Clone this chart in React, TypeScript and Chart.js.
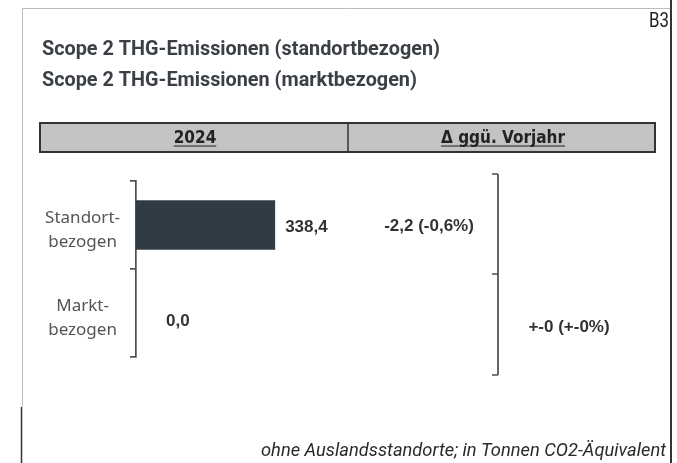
import { useEffect, useRef } from "react";
import { Chart, registerables } from "chart.js";

Chart.register(...registerables);

// ---- data ----
const categories = [["Standort-", "bezogen"], ["Markt-", "bezogen"]];
const values2024 = [338.4, 0.0];
const deltaLabels = ["-2,2 (-0,6%)", "+-0 (+-0%)"];
const titleLines = [
  "Scope 2 THG-Emissionen (standortbezogen)",
  "Scope 2 THG-Emissionen (marktbezogen)",
];
const headerLabels = ["2024", "Δ ggü. Vorjahr"];
const footnote = "ohne Auslandsstandorte; in Tonnen CO2-Äquivalent";
const pageTag = "B3";

const NARROW = "'DejaVu Sans Condensed', 'Roboto Condensed', sans-serif";
const ROBOTO = "Roboto, 'Liberation Sans', sans-serif";
const SANS = "'Noto Sans', 'Open Sans', sans-serif";
const ARIAL = "'Liberation Sans', Arial, sans-serif";

const fmt = (v: number) =>
  v.toLocaleString("de-DE", { minimumFractionDigits: 1, maximumFractionDigits: 1 });

// draw text horizontally condensed by factor sx
function fillCondensed(
  ctx: CanvasRenderingContext2D,
  text: string,
  x: number,
  y: number,
  sx: number
) {
  ctx.save();
  ctx.translate(x, y);
  ctx.scale(sx, 1);
  ctx.fillText(text, 0, 0);
  ctx.restore();
}

const decorPlugin = {
  id: "slideDecor",
  beforeDraw(chart: any) {
    const ctx = chart.ctx as CanvasRenderingContext2D;
    ctx.save();
    ctx.fillStyle = "#ffffff";
    ctx.fillRect(0, 0, chart.width, chart.height);

    // light frame
    ctx.strokeStyle = "#bdbdbd";
    ctx.lineWidth = 1;
    ctx.beginPath();
    ctx.moveTo(22.5, 407);
    ctx.lineTo(22.5, 8.5);
    ctx.lineTo(671, 8.5);
    ctx.stroke();
    // dark right border
    ctx.strokeStyle = "#333";
    ctx.lineWidth = 2;
    ctx.beginPath();
    ctx.moveTo(671, 0);
    ctx.lineTo(671, 463);
    ctx.stroke();
    // dark left-bottom border
    ctx.lineWidth = 1.5;
    ctx.beginPath();
    ctx.moveTo(21.5, 407);
    ctx.lineTo(21.5, 463);
    ctx.stroke();

    // page tag
    ctx.fillStyle = "#222";
    ctx.font = `21px ${ROBOTO}`;
    ctx.textAlign = "right";
    ctx.textBaseline = "middle";
    fillCondensed(ctx, pageTag, 669, 22, 0.8);

    // titles (condensed bold)
    ctx.fillStyle = "#3b4046";
    ctx.font = `bold 20px ${ROBOTO}`;
    ctx.textAlign = "left";
    const w0 = ctx.measureText(titleLines[0]).width;
    const sxTitle = 398 / w0;
    titleLines.forEach((t, i) => fillCondensed(ctx, t, 42, 50 + i * 31, sxTitle));

    // header box
    ctx.fillStyle = "#c3c3c3";
    ctx.fillRect(40, 123, 615, 29);
    ctx.strokeStyle = "#333";
    ctx.lineWidth = 2;
    ctx.strokeRect(40, 123, 615, 29);
    ctx.lineWidth = 1.5;
    ctx.beginPath();
    ctx.moveTo(348, 123);
    ctx.lineTo(348, 152);
    ctx.stroke();

    ctx.fillStyle = "#222";
    ctx.font = `bold 17px ${NARROW}`;
    ctx.textAlign = "center";
    ctx.textBaseline = "alphabetic";
    const headerX = [195, 503];
    headerLabels.forEach((t, i) => {
      ctx.fillText(t, headerX[i], 143);
      const w = ctx.measureText(t).width;
      ctx.lineWidth = 1.2;
      ctx.strokeStyle = "#222";
      ctx.beginPath();
      ctx.moveTo(headerX[i] - w / 2, 146);
      ctx.lineTo(headerX[i] + w / 2, 146);
      ctx.stroke();
    });

    // footnote (condensed italic)
    ctx.fillStyle = "#2a2a2a";
    ctx.font = `italic 18px ${ROBOTO}`;
    ctx.textAlign = "right";
    ctx.textBaseline = "middle";
    const wf = ctx.measureText(footnote).width;
    fillCondensed(ctx, footnote, 666, 451, 405 / wf);
    ctx.restore();
  },
  afterDatasetsDraw(chart: any) {
    const ctx = chart.ctx as CanvasRenderingContext2D;
    const meta = chart.getDatasetMeta(0);
    const yScale = chart.scales.y;
    ctx.save();
    // value labels
    ctx.fillStyle = "#333";
    ctx.font = `bold 17px ${ARIAL}`;
    ctx.textAlign = "left";
    ctx.textBaseline = "middle";
    meta.data.forEach((bar: any, i: number) => {
      const v = values2024[i];
      const x = v === 0 ? bar.base + 30 : bar.x + 10;
      const y = v === 0 ? bar.y + 8 : bar.y + 2;
      ctx.fillText(fmt(v), x, y);
    });

    // right bracket (delta column)
    ctx.strokeStyle = "#4d4d4d";
    ctx.lineWidth = 1.7;
    const bx = 498;
    const top = 174;
    const bot = 375;
    const mid = 274;
    ctx.beginPath();
    ctx.moveTo(bx, top);
    ctx.lineTo(bx, bot);
    [top, mid, bot].forEach((yy) => {
      ctx.moveTo(bx - 6, yy);
      ctx.lineTo(bx, yy);
    });
    ctx.stroke();

    // delta labels
    const dx = [429, 569];
    const dy = [1, 14];
    ctx.textAlign = "center";
    deltaLabels.forEach((t, i) => {
      ctx.fillText(t, dx[i], yScale.getPixelForValue(i) + dy[i]);
    });
    ctx.restore();
  },
};

export default function App() {
  const ref = useRef<HTMLCanvasElement | null>(null);
  useEffect(() => {
    document.body.style.margin = "0";
    const chart = new Chart(ref.current as HTMLCanvasElement, {
      type: "bar",
      data: {
        labels: categories as any,
        datasets: [
          {
            data: values2024,
            backgroundColor: "#2f3c45",
            borderWidth: 0,
            barPercentage: 0.56,
            categoryPercentage: 1,
          },
        ],
      },
      options: {
        indexAxis: "y",
        animation: false,
        responsive: false,
        layout: { padding: { left: 22, top: 181, right: 27, bottom: 106 } },
        plugins: { legend: { display: false }, tooltip: { enabled: false } },
        scales: {
          x: { display: false, min: 0, max: 1250 },
          y: {
            position: "left",
            offset: true,
            grid: {
              display: true,
              drawOnChartArea: false,
              drawTicks: true,
              tickLength: 6,
              offset: true,
              color: "#4d4d4d",
              lineWidth: 1.7,
            },
            border: { display: true, color: "#4d4d4d", width: 1.7 },
            ticks: {
              crossAlign: "center",
              padding: 10,
              labelOffset: 5,
              color: "#555",
              font: { family: SANS, size: 17, lineHeight: 1.42 },
            },
            afterFit: (s: any) => {
              s.width = 114;
            },
          },
        },
      },
      plugins: [decorPlugin],
    } as any);
    return () => chart.destroy();
  }, []);
  return (
    <div style={{ position: "fixed", left: 0, top: 0, width: 677, height: 463, background: "#fff" }}>
      <canvas ref={ref} width={677} height={463} style={{ display: "block" }} />
    </div>
  );
}
